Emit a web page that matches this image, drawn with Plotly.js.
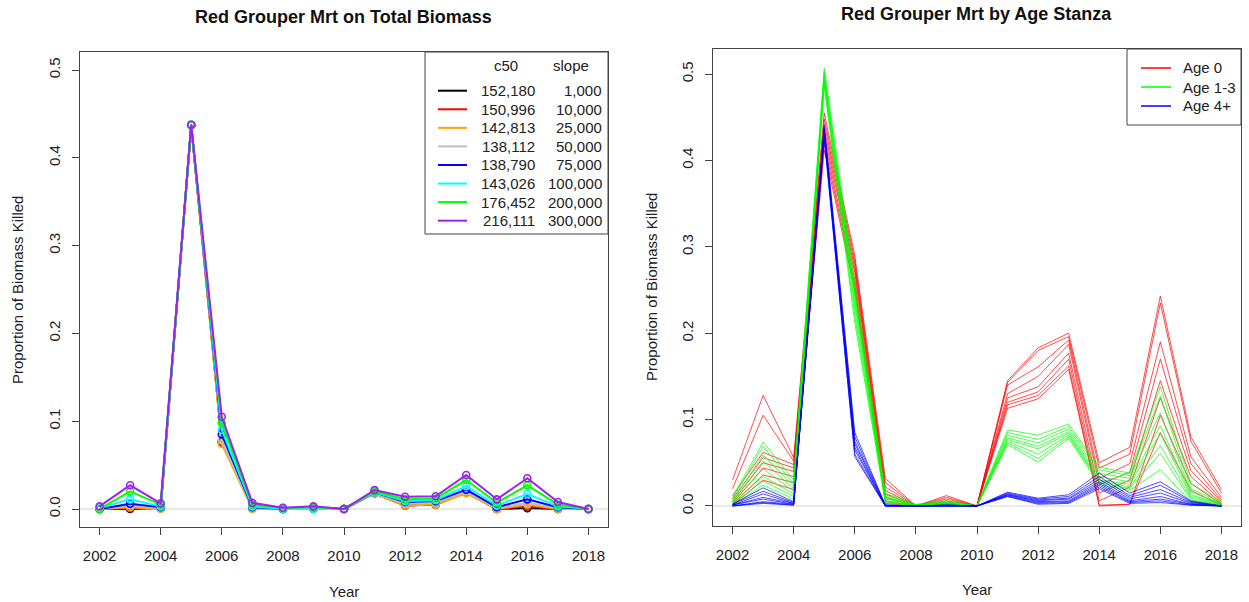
<!DOCTYPE html>
<html>
<head>
<meta charset="utf-8">
<script src="https://cdn.plot.ly/plotly-3.0.1.min.js"></script>
<style>html,body{margin:0;padding:0;background:#fff}#chart{width:1249px;height:602px}</style>
</head>
<body>
<div id="chart"></div>
<script>
// ---------------- DATA ----------------
const years = [2002,2003,2004,2005,2006,2007,2008,2009,2010,2011,2012,2013,2014,2015,2016,2017,2018];
const xTickVals = [2002,2004,2006,2008,2010,2012,2014,2016,2018];
const yTickVals = [0,0.1,0.2,0.3,0.4,0.5];
const yTickLabels = ['0.0','0.1','0.2','0.3','0.4','0.5'];

// Left panel: total biomass mortality per scenario
const c50Labels   = ['152,180','150,996','142,813','138,112','138,790','143,026','176,452','216,111'];
const slopeLabels = ['1,000','10,000','25,000','50,000','75,000','100,000','200,000','300,000'];
const scenarioColors = ['#000000','#FF0000','#FFA500','#BEBEBE','#0000FF','#00FFFF','#00FF00','#A020F0'];
const sBlack  = [0.000,0.000,0.001,0.437,0.077,0.001,0.000,0.001,0.000,0.018,0.004,0.005,0.019,0.000,0.001,0.000,0.000];
const sRed    = [0.000,0.001,0.001,0.437,0.076,0.001,0.000,0.001,0.000,0.018,0.004,0.005,0.019,0.000,0.003,0.000,0.000];
const sOrange = [0.000,0.002,0.000,0.437,0.074,0.000,0.000,0.001,0.000,0.018,0.004,0.005,0.018,0.000,0.005,0.000,0.000];
const sGray   = [0.000,0.004,0.001,0.437,0.078,0.001,0.000,0.001,0.000,0.018,0.006,0.007,0.020,0.001,0.007,0.001,0.000];
const sBlue   = [0.000,0.006,0.002,0.437,0.085,0.002,0.000,0.000,0.000,0.019,0.008,0.009,0.022,0.002,0.011,0.002,0.000];
const sCyan   = [0.001,0.011,0.003,0.437,0.090,0.003,0.000,0.000,0.000,0.019,0.009,0.010,0.026,0.004,0.017,0.003,0.000];
const sGreen  = [0.000,0.020,0.005,0.437,0.098,0.005,0.001,0.002,0.000,0.020,0.011,0.012,0.033,0.007,0.027,0.005,0.000];
const sPurple = [0.003,0.027,0.0065,0.438,0.105,0.007,0.0015,0.003,0.000,0.0215,0.014,0.0145,0.0387,0.011,0.035,0.008,0.000];
const scenarioSeries = [sBlack,sRed,sOrange,sGray,sBlue,sCyan,sGreen,sPurple];

// Right panel: mortality by age stanza (one line per scenario)
const stanzaNames  = ['Age 0','Age 1-3','Age 4+'];
const stanzaColors = ['#FF0000','#00FF00','#0000FF'];
const age0 = [
 [0.030,0.128,0.056,0.455,0.290,0.032,0.000,0.012,0,0.145,0.183,0.200,0.050,0.068,0.243,0.080,0.019],
 [0.020,0.105,0.052,0.448,0.285,0.027,0.000,0.010,0,0.143,0.180,0.196,0.044,0.060,0.235,0.075,0.015],
 [0.012,0.062,0.048,0.442,0.280,0.022,0.000,0.008,0,0.140,0.161,0.192,0.032,0.049,0.190,0.057,0.010],
 [0.008,0.056,0.044,0.436,0.275,0.018,0.000,0.006,0,0.130,0.150,0.187,0.025,0.039,0.170,0.049,0.007],
 [0.005,0.050,0.040,0.430,0.270,0.014,0.000,0.004,0,0.125,0.138,0.177,0.015,0.030,0.145,0.041,0.005],
 [0.003,0.044,0.034,0.424,0.262,0.010,0.000,0.003,0,0.120,0.132,0.170,0.006,0.022,0.125,0.034,0.003],
 [0.002,0.036,0.027,0.418,0.256,0.006,0.000,0.002,0,0.117,0.128,0.162,0.001,0.002,0.105,0.026,0.002],
 [0.001,0.030,0.019,0.412,0.250,0.003,0.000,0.001,0,0.113,0.124,0.158,0.000,0.002,0.085,0.018,0.001]
];
const age13 = [
 [0.010,0.074,0.030,0.507,0.260,0.015,0.002,0.006,0,0.088,0.082,0.095,0.045,0.038,0.138,0.026,0.005],
 [0.008,0.069,0.026,0.503,0.250,0.013,0.001,0.005,0,0.085,0.077,0.092,0.042,0.035,0.127,0.020,0.004],
 [0.006,0.059,0.023,0.500,0.245,0.011,0.001,0.004,0,0.082,0.073,0.089,0.038,0.032,0.108,0.016,0.003],
 [0.005,0.052,0.020,0.497,0.240,0.009,0.001,0.004,0,0.079,0.069,0.086,0.034,0.028,0.093,0.013,0.002],
 [0.004,0.043,0.017,0.494,0.235,0.008,0.001,0.003,0,0.077,0.066,0.084,0.030,0.025,0.084,0.011,0.002],
 [0.003,0.034,0.014,0.491,0.228,0.006,0.000,0.003,0,0.075,0.060,0.082,0.029,0.022,0.070,0.009,0.001],
 [0.002,0.029,0.011,0.489,0.220,0.005,0.000,0.002,0,0.073,0.055,0.080,0.027,0.020,0.061,0.007,0.001],
 [0.001,0.024,0.008,0.486,0.212,0.004,0.000,0.002,0,0.071,0.051,0.078,0.025,0.018,0.042,0.005,0.000]
];
const age4p = [
 [0.002,0.021,0.005,0.440,0.085,0.001,0,0.001,0,0.016,0.009,0.013,0.038,0.015,0.028,0.006,0],
 [0.002,0.017,0.004,0.438,0.080,0.001,0,0.001,0,0.015,0.008,0.011,0.034,0.012,0.024,0.005,0],
 [0.001,0.014,0.003,0.436,0.075,0.001,0,0.001,0,0.014,0.007,0.009,0.031,0.010,0.019,0.004,0],
 [0.001,0.010,0.003,0.434,0.072,0.000,0,0.000,0,0.013,0.006,0.008,0.028,0.008,0.015,0.003,0],
 [0.001,0.008,0.002,0.432,0.068,0.000,0,0.000,0,0.013,0.005,0.006,0.026,0.006,0.011,0.002,0],
 [0.000,0.005,0.002,0.430,0.065,0.000,0,0.000,0,0.012,0.004,0.005,0.024,0.005,0.008,0.002,0],
 [0.000,0.004,0.001,0.428,0.060,0.000,0,0.000,0,0.011,0.003,0.004,0.022,0.004,0.006,0.001,0],
 [0.000,0.003,0.001,0.426,0.057,0.000,0,0.000,0,0.011,0.002,0.003,0.020,0.003,0.004,0.001,0]
];
const stanzaSeries = [age0, age13, age4p];

// ---------------- LAYOUT HELPERS ----------------
const W = 1249, H = 602;
const px = x => x / W;
const py = y => 1 - y / H;
const FONT = 'Liberation Sans, Arial, sans-serif';
const TXT = '#222222';
const AX = '#444444';

const traces = [];
scenarioSeries.forEach((s, i) => {
  traces.push({
    x: years, y: s, xaxis: 'x', yaxis: 'y', type: 'scatter', mode: 'lines+markers',
    line: {color: scenarioColors[i], width: 2},
    marker: {symbol: 'circle-open', size: 7, color: scenarioColors[i], line: {width: 1.6, color: scenarioColors[i]}},
    showlegend: false, hoverinfo: 'skip'
  });
});
stanzaSeries.forEach((grp, g) => {
  grp.forEach(s => {
    traces.push({
      x: years, y: s, xaxis: 'x2', yaxis: 'y2', type: 'scatter', mode: 'lines',
      line: {color: stanzaColors[g], width: 1}, opacity: 0.7,
      showlegend: false, hoverinfo: 'skip'
    });
  });
});

function xAxis(d0, d1, anchor) {
  return {
    domain: [px(d0), px(d1)], anchor: anchor, range: [2001.36, 2018.64],
    tickvals: xTickVals, ticks: 'outside', ticklen: 7, tickcolor: AX, tickwidth: 1,
    showline: true, mirror: true, linecolor: AX, linewidth: 1,
    showgrid: false, zeroline: false, ticklabelstandoff: 8,
    tickfont: {family: FONT, size: 15, color: TXT}
  };
}
function yAxis(top, bottom, range, anchor) {
  return {
    domain: [py(bottom), py(top)], anchor: anchor, range: range,
    tickvals: yTickVals, ticktext: yTickLabels, tickangle: -90,
    ticks: 'outside', ticklen: 7, tickcolor: AX, tickwidth: 1,
    showline: true, mirror: true, linecolor: AX, linewidth: 1,
    showgrid: false, zeroline: false, ticklabelstandoff: 6,
    tickfont: {family: FONT, size: 15, color: TXT}
  };
}

const shapes = [
  {type: 'line', xref: 'x domain', yref: 'y', x0: 0, x1: 1, y0: 0, y1: 0, line: {color: '#D3D3D3', width: 1}, layer: 'below'},
  {type: 'line', xref: 'x2 domain', yref: 'y2', x0: 0, x1: 1, y0: 0, y1: 0, line: {color: '#D3D3D3', width: 1}, layer: 'below'}
];
const annotations = [];
function text(t, x, y, opts) {
  annotations.push(Object.assign({
    text: t, xref: 'paper', yref: 'paper', x: px(x), y: py(y), showarrow: false,
    xanchor: 'center', yanchor: 'middle', font: {family: FONT, size: 15, color: TXT}
  }, opts || {}));
}

// Titles
text('<b>Red Grouper Mrt on Total Biomass</b>', 344, 17, {font: {family: FONT, size: 18, color: '#111'}});
text('<b>Red Grouper Mrt by Age Stanza</b>', 977, 14, {font: {family: FONT, size: 18, color: '#111'}});
text('Year', 344, 591);
text('Year', 977, 589);
text('Proportion of Biomass Killed', 18, 290, {textangle: -90});
text('Proportion of Biomass Killed', 651, 287, {textangle: -90});

// Left legend (table of c50 / slope)
shapes.push({type: 'rect', xref: 'paper', yref: 'paper', x0: px(425), x1: px(608), y0: py(234), y1: py(52),
  line: {color: AX, width: 1}, fillcolor: '#FFFFFF', layer: 'above'});
text('c50', 506, 66);
text('slope', 571, 66);
c50Labels.forEach((lab, i) => {
  const y = 90.7 + i * 18.57;
  shapes.push({type: 'line', xref: 'paper', yref: 'paper', x0: px(438), x1: px(467), y0: py(y), y1: py(y),
    line: {color: scenarioColors[i], width: 2}, layer: 'above'});
  text(lab, 537, y, {xanchor: 'right'});
  text(slopeLabels[i], 604, y, {xanchor: 'right'});
});

// Right legend
shapes.push({type: 'rect', xref: 'paper', yref: 'paper', x0: px(1127), x1: px(1241), y0: py(125), y1: py(49),
  line: {color: AX, width: 1}, fillcolor: '#FFFFFF', layer: 'above'});
stanzaNames.forEach((lab, i) => {
  const y = 68 + i * 19;
  shapes.push({type: 'line', xref: 'paper', yref: 'paper', x0: px(1141), x1: px(1171), y0: py(y), y1: py(y),
    line: {color: stanzaColors[i], width: 1.5}, layer: 'above'});
  text(lab, 1181, y, {xanchor: 'left'});
});

const layout = {
  width: W, height: H, margin: {l: 0, r: 0, t: 0, b: 0},
  paper_bgcolor: '#FFFFFF', plot_bgcolor: '#FFFFFF', showlegend: false, hovermode: false,
  xaxis: xAxis(80, 608, 'y'),
  yaxis: yAxis(52, 527, [-0.0205, 0.5205], 'x'),
  xaxis2: xAxis(713, 1241, 'y2'),
  yaxis2: yAxis(49, 525.5, [-0.0226, 0.529], 'x2'),
  shapes: shapes, annotations: annotations
};

Plotly.newPlot('chart', traces, layout, {displayModeBar: false, staticPlot: true});
</script>
</body>
</html>
